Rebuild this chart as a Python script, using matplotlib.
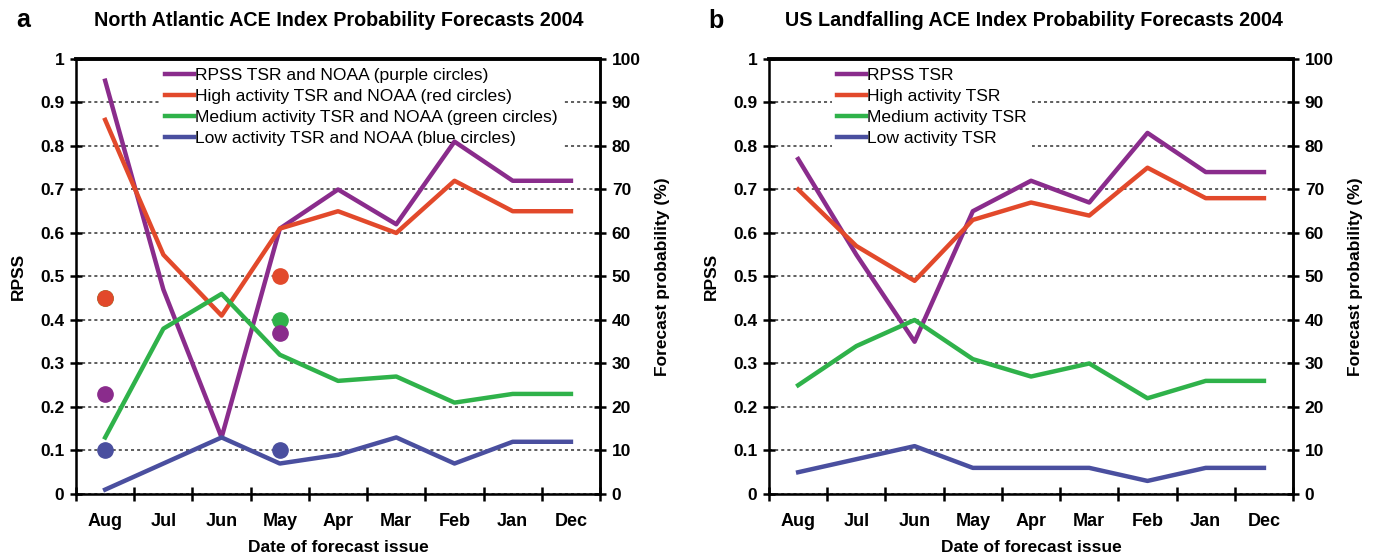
import numpy as np
import matplotlib
matplotlib.use("Agg")
import matplotlib.pyplot as plt

plt.rcParams['font.family'] = ['Liberation Sans', 'DejaVu Sans']

months = ['Aug', 'Jul', 'Jun', 'May', 'Apr', 'Mar', 'Feb', 'Jan', 'Dec']

# North Atlantic ACE (RPSS, and probabilities in %)
na_rpss = [0.95, 0.47, 0.13, 0.61, 0.70, 0.62, 0.81, 0.72, 0.72]
na_high = [86, 55, 41, 61, 65, 60, 72, 65, 65]
na_medium = [13, 38, 46, 32, 26, 27, 21, 23, 23]
na_low = [1, 7, 13, 7, 9, 13, 7, 12, 12]

# NOAA outlooks, issued in Aug and May
noaa_months = ['Aug', 'May']
noaa_rpss = [0.23, 0.37]
noaa_high = [45, 50]
noaa_medium = [45, 40]
noaa_low = [10, 10]

# US landfalling ACE
us_rpss = [0.77, 0.55, 0.35, 0.65, 0.72, 0.67, 0.83, 0.74, 0.74]
us_high = [70, 57, 49, 63, 67, 64, 75, 68, 68]
us_medium = [25, 34, 40, 31, 27, 30, 22, 26, 26]
us_low = [5, 8, 11, 6, 6, 6, 3, 6, 6]

PURPLE = '#8a2c8c'
RED = '#e2492b'
GREEN = '#2fb24a'
BLUE = '#4a4f9f'

rpss_ticks = np.round(np.arange(0, 1.01, 0.1), 1)
rpss_labels = ['0'] + ['%.1f' % v for v in rpss_ticks[1:-1]] + ['1']
prob_ticks = np.arange(0, 101, 10)


def panel(ax, rpss, high, med, low, names, legend_x):
    x = np.arange(len(months))
    # probabilities share the RPSS scale (percent / 100)
    ax.plot(x, rpss, color=PURPLE, lw=3.2, label=names[0], zorder=3)
    ax.plot(x, np.array(high) / 100, color=RED, lw=3.2, label=names[1], zorder=3)
    ax.plot(x, np.array(med) / 100, color=GREEN, lw=3.2, label=names[2], zorder=3)
    ax.plot(x, np.array(low) / 100, color=BLUE, lw=3.2, label=names[3], zorder=3)

    ax.set_xlim(-0.5, len(months) - 0.5)
    ax.set_ylim(0, 1)
    ax.set_xticks(np.arange(len(months) + 1) - 0.5)
    ax.set_xticklabels([])
    ax.set_xticks(x, minor=True)
    ax.set_xticklabels(months, minor=True, fontsize=13, fontweight='bold')
    ax.tick_params(axis='x', which='major', direction='inout', length=10, width=1.8)
    ax.tick_params(axis='x', which='minor', length=0, pad=14)
    ax.set_yticks(rpss_ticks)
    ax.set_yticklabels(rpss_labels, fontsize=12.5, fontweight='bold')
    ax.tick_params(axis='y', direction='inout', length=9, width=1.8, pad=4)
    ax.set_axisbelow(True)
    ax.yaxis.grid(True, color='#333333', linestyle=(0, (2, 2)), lw=1.1)
    for s in ax.spines.values():
        s.set_linewidth(1.8)
    ax.spines['top'].set_linewidth(2.8)
    ax.set_xlabel('Date of forecast issue', fontsize=12.5, fontweight='bold', labelpad=7)
    ax.set_ylabel('RPSS', fontsize=12.5, fontweight='bold', labelpad=10)

    ax2 = ax.twinx()
    ax2.set_ylim(0, 100)
    ax2.set_yticks(prob_ticks)
    ax2.set_yticklabels([str(v) for v in prob_ticks], fontsize=12.5, fontweight='bold')
    ax2.tick_params(axis='y', direction='inout', length=9, width=1.8, pad=4)
    ax2.spines['right'].set_linewidth(1.8)
    ax2.set_ylabel('Forecast probability (%)', fontsize=12.5, fontweight='bold', labelpad=10)

    leg = ax.legend(loc='upper left', bbox_to_anchor=(legend_x, 1.0), frameon=True,
                    fontsize=12.6, handlelength=1.65, handletextpad=0.05,
                    labelspacing=0.33, borderpad=0.3, borderaxespad=0.2)
    leg.get_frame().set_edgecolor('none')
    leg.get_frame().set_facecolor('white')
    leg.get_frame().set_alpha(1)
    leg.set_zorder(1)
    return ax2


fig = plt.figure(figsize=(13.75, 5.6), dpi=100)
ax_a = fig.add_axes([0.0553, 0.1179, 0.3811, 0.7768])
ax_b = fig.add_axes([0.5593, 0.1179, 0.3811, 0.7768])

panel(ax_a, na_rpss, na_high, na_medium, na_low,
      ['RPSS TSR and NOAA (purple circles)', 'High activity TSR and NOAA (red circles)',
       'Medium activity TSR and NOAA (green circles)', 'Low activity TSR and NOAA (blue circles)'],
      0.153)
panel(ax_b, us_rpss, us_high, us_medium, us_low,
      ['RPSS TSR', 'High activity TSR', 'Medium activity TSR', 'Low activity TSR'],
      0.113)

# NOAA outlook circles
nx = [months.index(m) for m in noaa_months]
ax_a.plot(nx, np.array(noaa_medium) / 100, 'o', color=GREEN, ms=11, zorder=4)
ax_a.plot(nx, np.array(noaa_high) / 100, 'o', color=RED, ms=11, zorder=4)
ax_a.plot(nx, noaa_rpss, 'o', color=PURPLE, ms=11, zorder=4)
ax_a.plot(nx, np.array(noaa_low) / 100, 'o', color=BLUE, ms=11, zorder=4)

# panel titles and letters
fig.text(0.2467, 0.963, 'North Atlantic ACE Index Probability Forecasts 2004',
         fontsize=14.2, fontweight='bold', ha='center', va='center')
fig.text(0.752, 0.963, 'US Landfalling ACE Index Probability Forecasts 2004',
         fontsize=14.2, fontweight='bold', ha='center', va='center')
fig.text(0.012, 0.965, 'a', fontsize=18, fontweight='bold', ha='left', va='center')
fig.text(0.515, 0.962, 'b', fontsize=18, fontweight='bold', ha='left', va='center')

fig.savefig('out.png', dpi=100)
